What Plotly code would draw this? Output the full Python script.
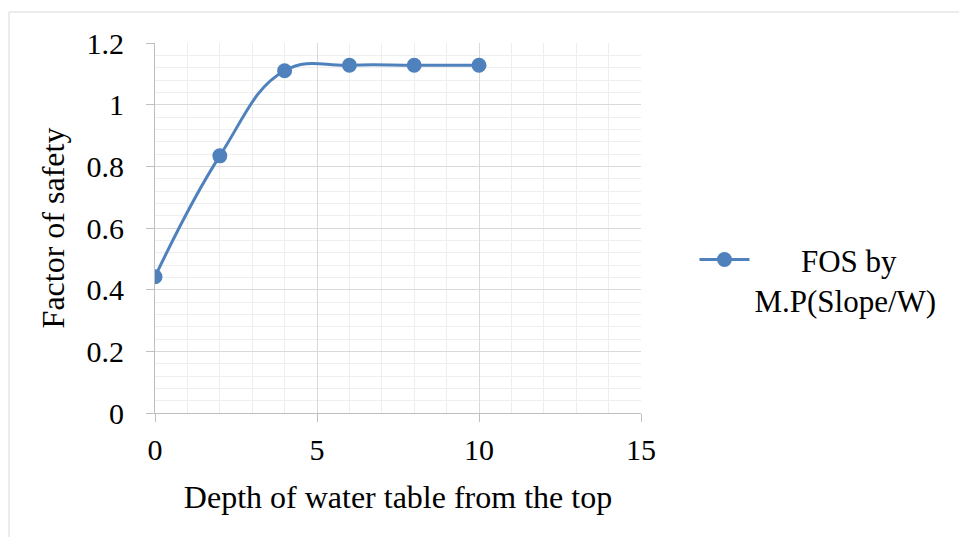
import plotly.graph_objects as go

depth = [0, 2, 4, 6, 8, 10]
fos = [0.442, 0.834, 1.110, 1.128, 1.128, 1.128]
series_name = "\u00a0" * 6 + "FOS by<br>M.P(Slope/W)"
x_ticks = [0, 5, 10, 15]
y_ticks = [0, 0.2, 0.4, 0.6, 0.8, 1, 1.2]

FONT = "Liberation Serif, Times New Roman, serif"
BLUE = "#4f81bd"

fig = go.Figure()
fig.add_trace(go.Scatter(
    x=depth, y=fos, name=series_name, mode="lines+markers",
    line=dict(color=BLUE, width=3, shape="spline", smoothing=1.2),
    marker=dict(color=BLUE, size=15),
))

fig.update_layout(
    width=959, height=537,
    margin=dict(l=155, r=318, t=43, b=124),
    paper_bgcolor="white", plot_bgcolor="white",
    font=dict(family=FONT, size=30, color="black"),
    showlegend=True,
    legend=dict(x=1.11, y=0.36, xanchor="left", yanchor="middle",
                valign="top", font=dict(family=FONT, size=31, color="black"),
                itemwidth=50, tracegroupgap=0),
    shapes=[dict(type="rect", xref="paper", yref="paper",
                 x0=-146/486, x1=1 + 340/486, y0=-140/370, y1=1 + 31/370,
                 line=dict(color="#d9d9d9", width=1), fillcolor="rgba(0,0,0,0)",
                 layer="below")],
)

fig.update_xaxes(
    range=[0, 15], tickvals=x_ticks, ticktext=[str(v) for v in x_ticks],
    showgrid=True, gridcolor="#d9d9d9", gridwidth=1,
    minor=dict(dtick=1, showgrid=True, gridcolor="#eeeeee", gridwidth=1),
    showline=True, linecolor="#bfbfbf", linewidth=1,
    ticks="outside", ticklen=8, tickcolor="#bfbfbf",
    ticklabelstandoff=2,
    zeroline=False,
    title=dict(text="Depth of water table from the top", standoff=20,
               font=dict(family=FONT, size=32)),
    tickfont=dict(family=FONT, size=30),
)
fig.update_yaxes(
    range=[0, 1.2], tickvals=y_ticks, ticktext=["0", "0.2", "0.4", "0.6", "0.8", "1", "1.2"],
    showgrid=True, gridcolor="#d9d9d9", gridwidth=1,
    minor=dict(dtick=0.04, showgrid=True, gridcolor="#eeeeee", gridwidth=1),
    showline=True, linecolor="#bfbfbf", linewidth=1,
    ticks="outside", ticklen=8, tickcolor="#bfbfbf",
    ticklabelstandoff=16,
    zeroline=False,
    title=dict(text="Factor of safety", standoff=12,
               font=dict(family=FONT, size=32)),
    tickfont=dict(family=FONT, size=30),
)

fig.write_html("out.html")
